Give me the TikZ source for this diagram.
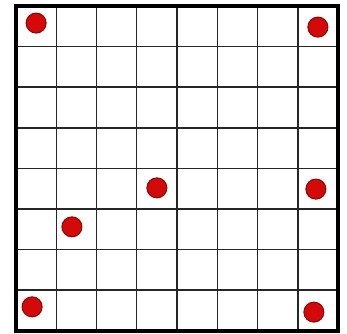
\documentclass[tikz,border=0pt]{standalone}
\usetikzlibrary{positioning}
\definecolor{dotred}{HTML}{D40A0A}
\definecolor{dotrim}{HTML}{8A0A0A}

\begin{document}
\begin{tikzpicture}[
  x=0.75pt, y=-0.75pt,
  gridline/.style={line width=1.1pt, black!85},
  frame/.style={line width=3pt, black},
  piece/.style={circle, draw=dotrim, fill=dotred, line width=0.8pt, minimum size=15pt, inner sep=0pt}
]
  \useasboundingbox (0,0) rectangle (347,334);
  \begin{scope}[shift={(16,6)}, x=30.19pt, y=-30.45pt]
    % inner lines of the board
    \foreach \i in {1,...,7} {
      \draw[gridline] (\i,0) -- (\i,8);
      \draw[gridline] (0,\i) -- (8,\i);
    }
    \draw[frame] (0,0) rectangle (8,8);
    % the pieces
    \node[piece] (p1) at (0.50,0.42) {};
    \node[piece] (p2) at (7.50,0.52) {};
    \node[piece] (p3) at (3.50,4.48) {};
    \node[piece] (p4) at (7.45,4.51) {};
    \node[piece] (p5) at (1.39,5.44) {};
    \node[piece] (p6) at (0.40,7.41) {};
    \node[piece] (p7) at (7.40,7.54) {};
  \end{scope}
\end{tikzpicture}
\end{document}
